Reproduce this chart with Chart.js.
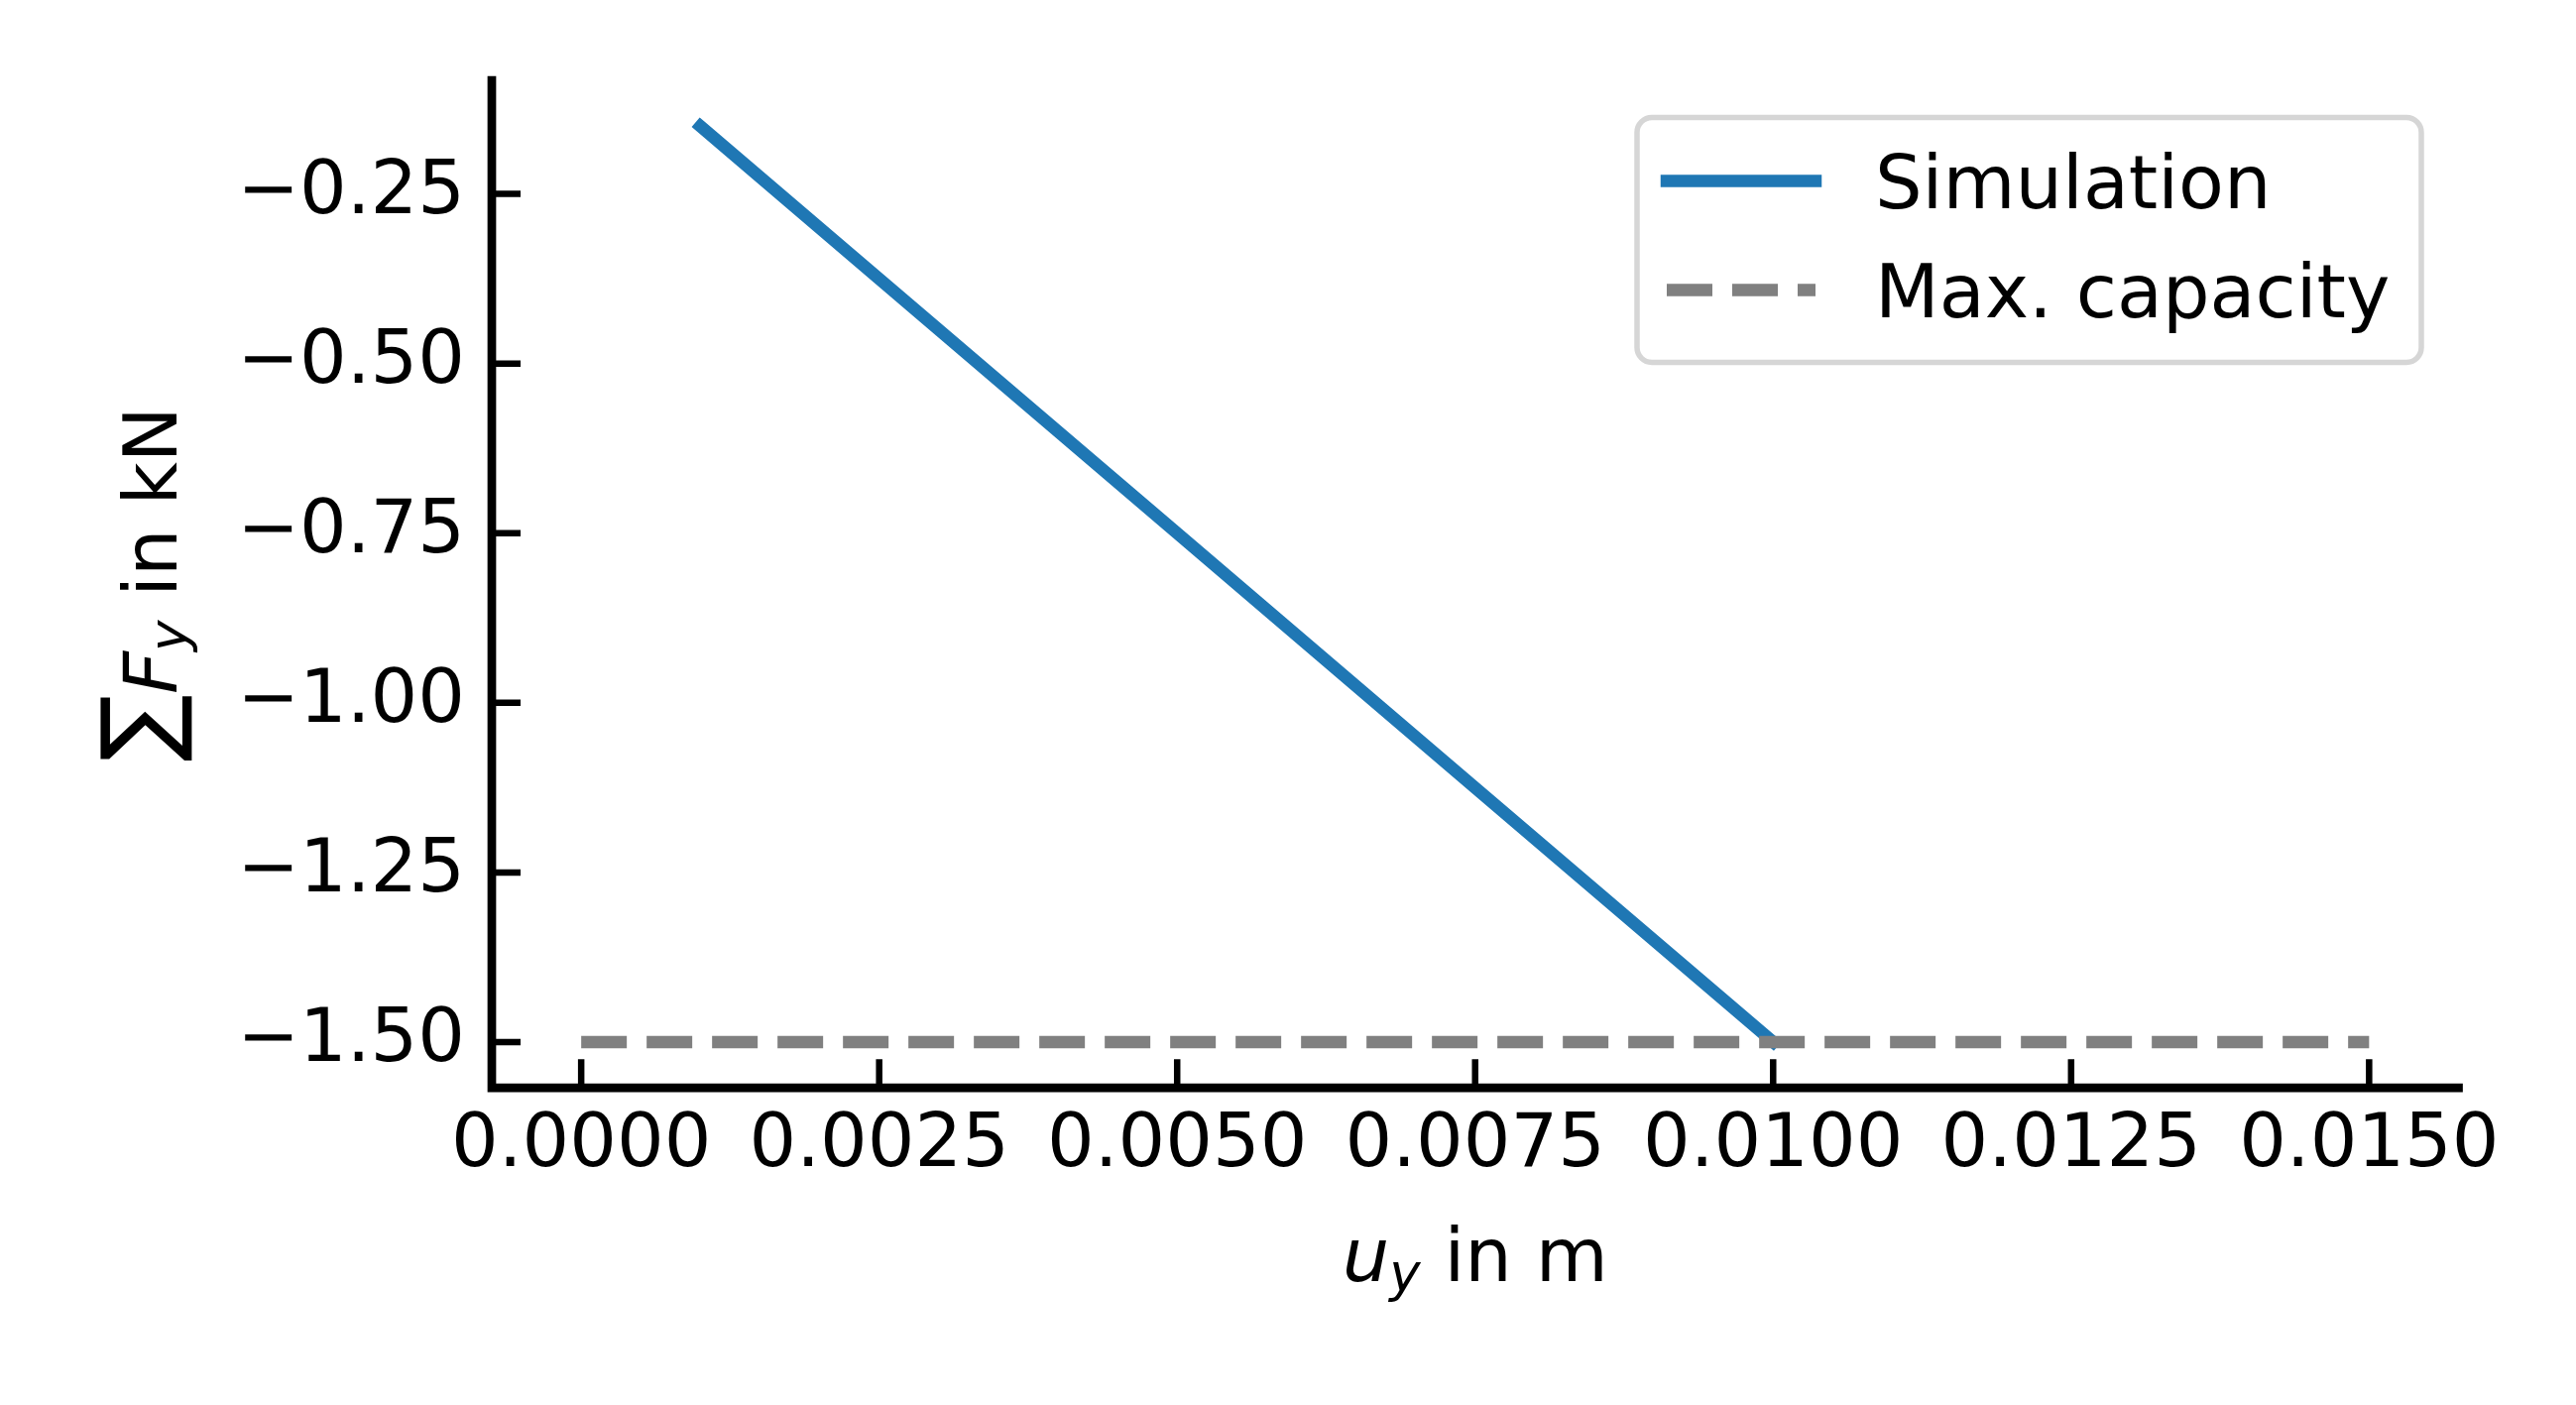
<!DOCTYPE html>
<html lang="en">
<head>
    <meta charset="UTF-8">
    <title>Sum of Fy vs uy</title>
    <script src="https://cdn.jsdelivr.net/npm/chart.js@4.4.1/dist/chart.umd.min.js"></script>
    <style>
        html, body { margin: 0; padding: 0; background: #fff; }
        #chart { display: block; }
    </style>
</head>
<body>
    <canvas id="chart" width="2598" height="1417"></canvas>

    <script>
        // Data
        const simX = [0.001, 0.0025, 0.005, 0.0075, 0.010];
        const simY = [-0.15, -0.375, -0.75, -1.125, -1.50];
        const capX = [0.0, 0.015];
        const capY = [-1.5, -1.5];
        const seriesLabels = ['Simulation', 'Max. capacity'];
        const xTicks = [0, 0.0025, 0.005, 0.0075, 0.01, 0.0125, 0.015];
        const yTicks = [-1.5, -1.25, -1.0, -0.75, -0.5, -0.25];

        const FONT = '"DejaVu Sans", sans-serif';
        const FS = 75;
        const SPINE_W = 8.7;
        const TICK_W = 6.5;
        const TICK_LEN = 29;

        const toPoints = (xs, ys) => xs.map((v, i) => ({ x: v, y: ys[i] }));

        // Draw a run of text pieces (normal / italic / subscript) centred on (cx, cy)
        function drawRich(ctx, parts, cx, cy, angle) {
            let total = 0;
            parts.forEach(p => { ctx.font = p.font; p.w = ctx.measureText(p.text).width; total += p.w; });
            ctx.save();
            ctx.translate(cx, cy);
            ctx.rotate(angle);
            ctx.textBaseline = 'alphabetic';
            ctx.textAlign = 'left';
            ctx.fillStyle = '#000';
            let x = -total / 2;
            parts.forEach(p => {
                ctx.font = p.font;
                ctx.fillText(p.text, x, p.dy || 0);
                x += p.w;
            });
            ctx.restore();
        }

        const mplLook = {
            id: 'mplLook',
            afterDatasetsDraw(chart) {
                const { ctx, chartArea: a, scales: { x, y } } = chart;
                ctx.save();
                ctx.strokeStyle = '#000';

                // inward ticks
                ctx.lineWidth = TICK_W;
                ctx.lineCap = 'butt';
                ctx.beginPath();
                x.ticks.forEach(t => {
                    const px = x.getPixelForValue(t.value);
                    ctx.moveTo(px, a.bottom);
                    ctx.lineTo(px, a.bottom - TICK_LEN);
                });
                y.ticks.forEach(t => {
                    const py = y.getPixelForValue(t.value);
                    ctx.moveTo(a.left, py);
                    ctx.lineTo(a.left + TICK_LEN, py);
                });
                ctx.stroke();

                // left and bottom spines only
                ctx.lineWidth = SPINE_W;
                ctx.lineCap = 'square';
                ctx.lineJoin = 'miter';
                ctx.beginPath();
                ctx.moveTo(a.left, a.top);
                ctx.lineTo(a.left, a.bottom);
                ctx.lineTo(a.right, a.bottom);
                ctx.stroke();
                ctx.restore();
            },
            afterDraw(chart) {
                const { ctx, chartArea: a } = chart;
                const normal = FS + 'px ' + FONT;
                const ital = 'italic ' + FS + 'px ' + FONT;
                const sub = 'italic ' + Math.round(FS * 0.7) + 'px ' + FONT;
                const big = Math.round(FS * 1.35) + 'px ' + FONT;

                // axis titles
                drawRich(ctx, [
                    { text: 'u', font: ital },
                    { text: 'y', font: sub, dy: 10 },
                    { text: ' in m', font: normal }
                ], (a.left + a.right) / 2, 1292, 0);

                ctx.save();
                ctx.translate(178, (a.top + a.bottom) / 2);
                ctx.rotate(-Math.PI / 2);
                drawRich(ctx, [
                    { text: '\u2211', font: big, dy: -4 },
                    { text: 'F', font: ital },
                    { text: 'y', font: sub, dy: 10 },
                    { text: ' in kN', font: normal }
                ], 0, 0, 0);
                ctx.restore();

                // legend box, upper right
                const pad = 0.5 * FS;
                const w = 791, h = 247;
                const bx = a.right - pad - w, by = a.top + pad;
                ctx.save();
                ctx.beginPath();
                ctx.roundRect(bx, by, w, h, 15);
                ctx.fillStyle = 'rgba(255,255,255,0.8)';
                ctx.fill();
                ctx.lineWidth = 5.5;
                ctx.strokeStyle = '#d6d6d6';
                ctx.stroke();

                chart.data.datasets.forEach((ds, i) => {
                    const ry = by + 64 + i * 110;
                    const lx = bx + 30;
                    ctx.beginPath();
                    ctx.lineWidth = ds.borderWidth;
                    ctx.strokeStyle = ds.borderColor;
                    ctx.setLineDash(ds.borderDash || []);
                    ctx.lineCap = ds.borderCapStyle || 'butt';
                    ctx.moveTo(lx, ry);
                    ctx.lineTo(lx + 2 * FS, ry);
                    ctx.stroke();
                    ctx.setLineDash([]);
                    ctx.fillStyle = '#000';
                    ctx.font = normal;
                    ctx.textBaseline = 'alphabetic';
                    ctx.textAlign = 'left';
                    ctx.fillText(ds.label, lx + 2 * FS + 0.8 * FS, ry + 27);
                });
                ctx.restore();
            }
        };

        const tickFont = { family: FONT, size: FS };

        new Chart(document.getElementById('chart'), {
            type: 'line',
            data: {
                datasets: [{
                    label: seriesLabels[0],
                    data: toPoints(simX, simY),
                    borderColor: '#1f77b4',
                    borderWidth: 12.5,
                    borderCapStyle: 'square',
                    borderJoinStyle: 'round',
                    pointRadius: 0,
                    tension: 0,
                    order: 1
                }, {
                    label: seriesLabels[1],
                    data: toPoints(capX, capY),
                    borderColor: '#808080',
                    borderWidth: 12.5,
                    borderDash: [46, 20],
                    borderCapStyle: 'butt',
                    pointRadius: 0,
                    tension: 0,
                    order: 0
                }]
            },
            options: {
                responsive: false,
                animation: false,
                layout: { padding: { top: 81, right: 118.5, left: 0, bottom: 0 } },
                plugins: { legend: { display: false }, tooltip: { enabled: false } },
                scales: {
                    x: {
                        type: 'linear',
                        min: -0.00075,
                        max: 0.01575,
                        grid: { display: false, drawTicks: false },
                        border: { display: false },
                        afterBuildTicks: s => { s.ticks = xTicks.map(v => ({ value: v })); },
                        afterFit: s => {
                            s.height = 1417 - 1097.2;
                            s.paddingLeft = 0; s.paddingRight = 0;
                        },
                        ticks: {
                            font: tickFont,
                            color: '#000',
                            padding: 14,
                            maxRotation: 0,
                            autoSkip: false,
                            callback: v => v.toFixed(4)
                        }
                    },
                    y: {
                        type: 'linear',
                        min: -1.5675,
                        max: -0.0825,
                        grid: { display: false, drawTicks: false },
                        border: { display: false },
                        afterBuildTicks: s => { s.ticks = yTicks.map(v => ({ value: v })); },
                        afterFit: s => {
                            s.width = 496;
                            s.paddingTop = 0; s.paddingBottom = 0;
                        },
                        ticks: {
                            font: tickFont,
                            color: '#000',
                            padding: 27,
                            autoSkip: false,
                            callback: v => (v < 0 ? '\u2212' : '') + Math.abs(v).toFixed(2)
                        }
                    }
                }
            },
            plugins: [mplLook]
        });
    </script>
</body>
</html>
